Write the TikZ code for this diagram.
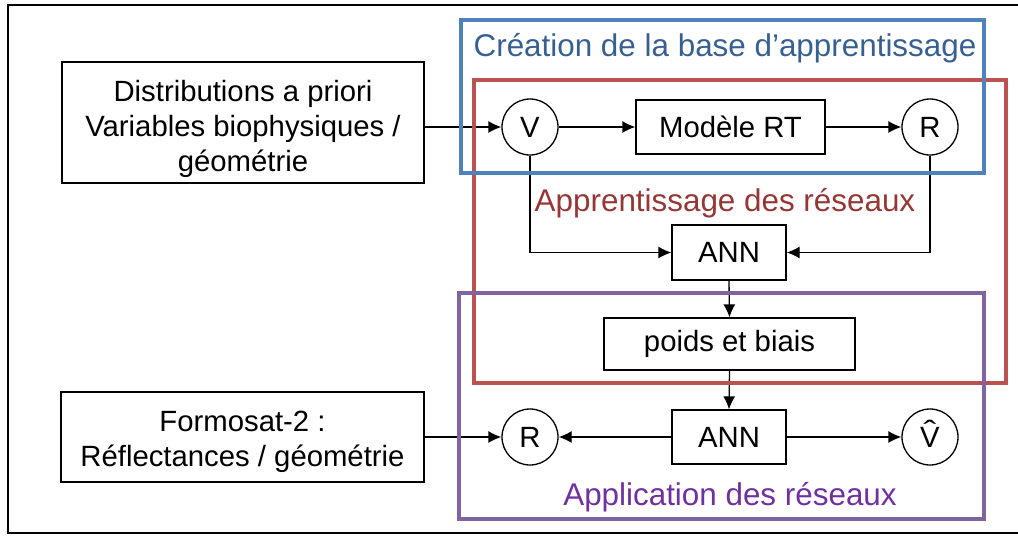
\documentclass[tikz,border=0pt]{standalone}
\usepackage{fontspec}
\setmainfont{Liberation Sans}
\usetikzlibrary{arrows.meta}
\definecolor{bframe}{RGB}{79,129,189}
\definecolor{btext}{RGB}{55,96,146}
\definecolor{rframe}{RGB}{186,82,80}
\definecolor{rtext}{RGB}{149,55,53}
\definecolor{pframe}{RGB}{128,100,162}
\definecolor{ptext}{RGB}{112,48,160}
\begin{document}
\begin{tikzpicture}[x=1pt,y=-1pt,
  txt/.style={font=\fontsize{29.3}{35}\selectfont},
  box/.style={draw,line width=1.3pt,fill=white,inner sep=0pt,align=center,txt},
  circ/.style={draw,circle,line width=1.3pt,fill=white,minimum size=56pt,inner sep=0pt,txt},
  conn/.style={line width=1.3pt,-{Latex[length=13pt,width=12pt]}},
  frm/.style={line width=3.5pt},
  ftitle/.style={inner sep=0pt,font=\fontsize{31.4}{36}\selectfont},
  ]
\useasboundingbox (0,0) rectangle (1018,536);
% outer frame
\draw[line width=2.5pt] (1030,5) -- (8,5) -- (8,533) -- (1030,533);

% nodes
\node[box,minimum width=362pt,minimum height=121pt] (dist) at (243,122.5) {\rule{0pt}{33.5pt}Distributions a priori\\Variables biophysiques /\\géométrie};
\node[box,minimum width=363pt,minimum height=90pt] (formo) at (242.5,437) {\rule{0pt}{29.5pt}Formosat-2 :\\Réflectances / géométrie};
\node[circ] (v) at (530,127) {V};
\node[box,minimum width=189pt,minimum height=54pt] (rt) at (730.5,127) {Modèle RT};
\node[circ] (r1) at (930,127) {R};
\node[box,minimum width=114pt,minimum height=55pt] (ann1) at (729,252.5) {ANN};
\node[box,minimum width=251pt,minimum height=52pt] (pb) at (729.5,344) {poids et biais};
\node[box,minimum width=114pt,minimum height=54pt] (ann2) at (729,437) {ANN};
\node[circ] (r2) at (530,437) {R};
\node[circ] (vh) at (930,437) {\ooalign{V\cr\hidewidth\raisebox{0.2em}{\scalebox{1.3}[1]{ˆ}}\hidewidth\cr}};

% connectors
\draw[conn] (dist.east |- v.west) -- (v.west);
\draw[conn] (v.east) -- (rt.west);
\draw[conn] (rt.east) -- (r1.west);
\draw[conn] (v.south) |- (ann1.west);
\draw[conn] (r1.south) |- (ann1.east);
\draw[conn] (ann1.south) -- (pb.north);
\draw[conn] (pb.south) -- (ann2.north);
\draw[conn] (ann2.west) -- (r2.east);
\draw[conn] (ann2.east) -- (vh.west);
\draw[conn] (formo.east |- r2.west) -- (r2.west);

% frames
\draw[frm,rframe] (474,80) rectangle (1006,383);
\draw[frm,bframe] (461,20) rectangle (984,173);
\draw[frm,pframe] (459,293) rectangle (984,519);

\node[ftitle,text=btext] (tb) at (725,48) {Création de la base d’apprentissage};
\node[ftitle,text=rtext] (tr) at (725,203) {Apprentissage des réseaux};
\node[ftitle,text=ptext] (tp) at (730,497) {Application des réseaux};
\end{tikzpicture}
\end{document}
